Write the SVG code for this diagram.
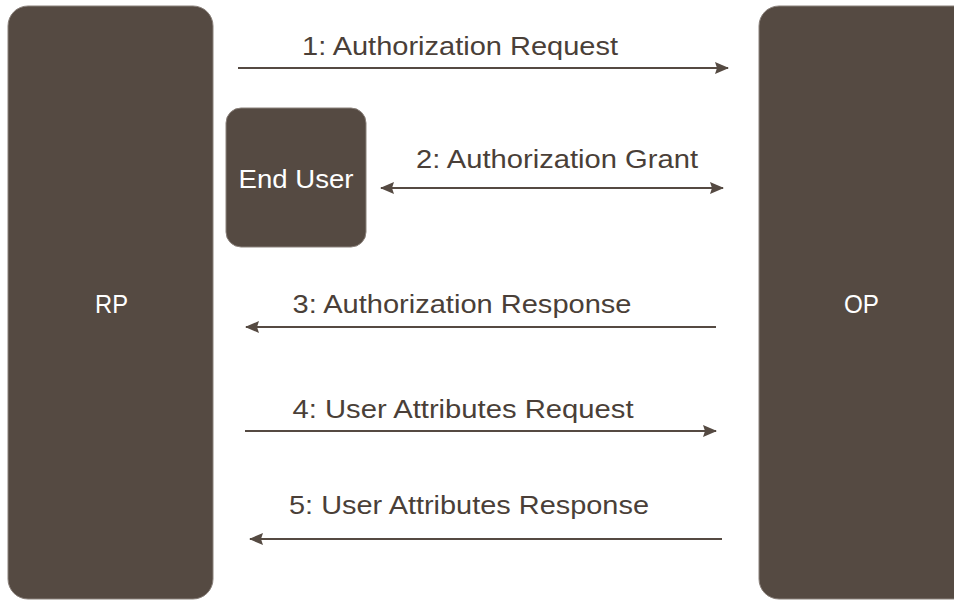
<svg xmlns="http://www.w3.org/2000/svg" width="954" height="600" viewBox="0 0 954 600">
<style>
.box{fill:#554a42;stroke:#8a817b;stroke-width:1}
.btxt{fill:#ffffff;font-family:"Liberation Sans",Arial,sans-serif;font-size:26px;text-anchor:middle}
.lbl{fill:#4a3f38;font-family:"Liberation Sans",Arial,sans-serif;font-size:25px;text-anchor:middle}
.conn{stroke:#554a42;stroke-width:2;fill:none}
</style>
<defs>
<marker id="ah" viewBox="0 0 14 12" refX="13" refY="6" markerWidth="14" markerHeight="12" markerUnits="userSpaceOnUse" orient="auto-start-reverse">
<path d="M0,0 L14,6 L0,12 L2,6 Z" fill="#554a42"/>
</marker>
</defs>
<rect width="954" height="600" fill="#ffffff"/>
<g id="rp">
<rect class="box" x="8" y="6" width="205" height="593" rx="20"/>
<text class="btxt" x="111.5" y="313" textLength="33" lengthAdjust="spacingAndGlyphs">RP</text>
</g>
<g id="op">
<rect class="box" x="759" y="6" width="215" height="593" rx="20"/>
<text class="btxt" x="861.5" y="313" textLength="35" lengthAdjust="spacingAndGlyphs">OP</text>
</g>
<g id="enduser">
<rect class="box" x="226" y="108" width="140" height="139" rx="15"/>
<text class="btxt" x="296" y="188" textLength="115" lengthAdjust="spacingAndGlyphs">End User</text>
</g>
<g id="connectors">
<line class="conn" x1="238" y1="68" x2="728" y2="68" marker-end="url(#ah)"/>
<line class="conn" x1="381" y1="188" x2="723" y2="188" marker-start="url(#ah)" marker-end="url(#ah)"/>
<line class="conn" x1="716" y1="327" x2="246" y2="327" marker-end="url(#ah)"/>
<line class="conn" x1="245" y1="431" x2="716" y2="431" marker-end="url(#ah)"/>
<line class="conn" x1="722" y1="539" x2="250" y2="539" marker-end="url(#ah)"/>
</g>
<g id="labels">
<text class="lbl" x="460" y="55" textLength="316" lengthAdjust="spacingAndGlyphs">1: Authorization Request</text>
<text class="lbl" x="557" y="168" textLength="282" lengthAdjust="spacingAndGlyphs">2: Authorization Grant</text>
<text class="lbl" x="462" y="313" textLength="339" lengthAdjust="spacingAndGlyphs">3: Authorization Response</text>
<text class="lbl" x="463" y="418" textLength="341" lengthAdjust="spacingAndGlyphs">4: User Attributes Request</text>
<text class="lbl" x="469" y="514" textLength="360" lengthAdjust="spacingAndGlyphs">5: User Attributes Response</text>
</g>
</svg>
